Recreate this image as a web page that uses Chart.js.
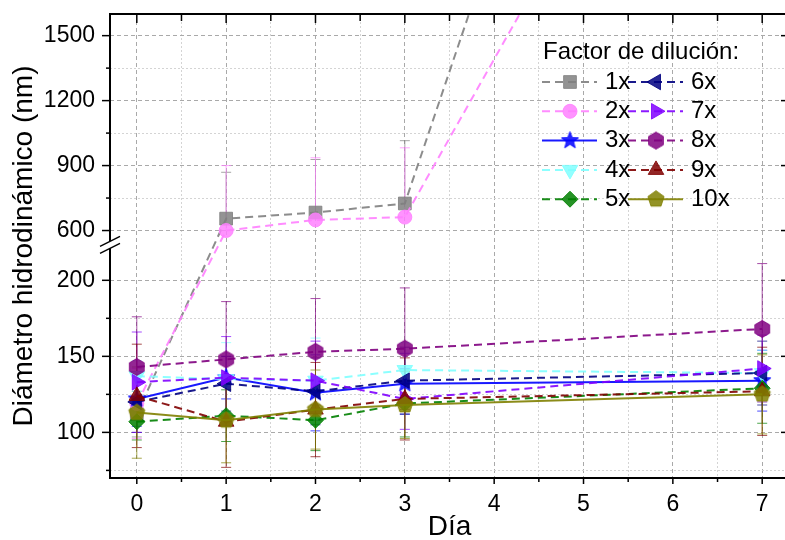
<!DOCTYPE html>
<html>
<head>
<meta charset="utf-8">
<title>Diámetro hidrodinámico vs día</title>
<script src="https://cdn.jsdelivr.net/npm/chart.js@4.4.1/dist/chart.umd.min.js"></script>
<style>
  html, body { margin: 0; background: #fff; }
  #wrap { width: 785px; height: 540px; overflow: hidden; }
</style>
</head>
<body>
<div id="wrap"><canvas id="dls" width="799" height="540"></canvas></div>
<script>
// ── values ────────────────────────────────────────────────────────────────────
const days = [0, 1, 2, 3, 7];
const seriesLabels = ['1x', '2x', '3x', '4x', '5x', '6x', '7x', '8x', '9x', '10x'];

const mean1x  = [112, 655, 683, 725, 5600];
const mean2x  = [119, 600, 649, 662, 3580];
const mean3x  = [122, 136, 126, 132, 134];
const mean4x  = [137, 135, 134, 141, 139];
const mean5x  = [107, 111, 108, 119, 129];
const mean6x  = [120, 132, 127, 134, 139];
const mean7x  = [133, 136, 134, 122, 142];
const mean8x  = [143, 148, 153, 155, 168];
const mean9x  = [124, 107, 115, 122, 127];
const mean10x = [113, 108, 115, 118, 125];

const sd1x  = [15, 214, 245, 290, 0];
const sd2x  = [23, 300, 287, 320, 0];
const sd3x  = [18, 14, 25, 20, 20];
const sd4x  = [10, 24, 28, 18, 15];
const sd5x  = [12, 17, 20, 22, 23];
const sd6x  = [20, 18, 22, 22, 21];
const sd7x  = [33, 27, 26, 20, 22];
const sd8x  = [33, 38, 35, 40, 43];
const sd9x  = [34, 30, 31, 27, 29];
const sd10x = [30, 28, 26, 22, 26];

const xTickValues = [0, 0.5, 1, 1.5, 2, 2.5, 3, 3.5, 4, 4.5, 5, 5.5, 6, 6.5, 7];
const yMajorTicks = [100, 150, 200, 600, 900, 1200, 1500];
const yMinorTicks = [75, 125, 175, 750, 1050, 1350];
const yBreak = [225, 550];

const seriesMeans = [mean1x, mean2x, mean3x, mean4x, mean5x, mean6x, mean7x, mean8x, mean9x, mean10x];
const seriesSd    = [sd1x, sd2x, sd3x, sd4x, sd5x, sd6x, sd7x, sd8x, sd9x, sd10x];

// ── look ──────────────────────────────────────────────────────────────────────
const FONT = '"Liberation Sans", Arial, sans-serif';
const GRID_MAJOR = '#a9a9a9';
const GRID_MINOR = '#d4d4d4';

const seriesStyle = [
  { color: '#808080', marker: 'rect',     r: 9,   rot: 0,   dashed: true  },
  { color: '#ff80ff', marker: 'circle',   r: 7,   rot: 0,   dashed: true  },
  { color: '#0000ff', marker: 'star',     r: 9,   rot: 0,   dashed: false },
  { color: '#80ffff', marker: 'triangle', r: 9,   rot: 180, dashed: true  },
  { color: '#008000', marker: 'rectRot',  r: 8,   rot: 0,   dashed: true  },
  { color: '#000080', marker: 'triangle', r: 9,   rot: 270, dashed: true  },
  { color: '#8000ff', marker: 'triangle', r: 9,   rot: 90,  dashed: true  },
  { color: '#800080', marker: 'hexagon',  r: 8.5, rot: 0,   dashed: true  },
  { color: '#800000', marker: 'triangle', r: 9,   rot: 0,   dashed: true  },
  { color: '#808000', marker: 'pentagon', r: 8.5, rot: 0,   dashed: false },
];

function rgba(hex, a) {
  const n = parseInt(hex.slice(1), 16);
  return `rgba(${n >> 16},${(n >> 8) & 255},${n & 255},${a})`;
}

// star / hexagon / pentagon are not built-in point styles → small canvases
function shapeMarker(kind, color, r) {
  const size = Math.ceil(2 * r + 3);
  const c = document.createElement('canvas');
  c.width = c.height = size;
  const g = c.getContext('2d');
  const m = size / 2;
  g.beginPath();
  if (kind === 'star') {
    for (let k = 0; k < 10; k++) {
      const rr = k % 2 ? r * 0.42 : r;
      const a = -Math.PI / 2 + k * Math.PI / 5;
      g.lineTo(m + rr * Math.cos(a), m + rr * Math.sin(a));
    }
  } else {
    const n = kind === 'hexagon' ? 6 : 5;
    for (let k = 0; k < n; k++) {
      const a = -Math.PI / 2 + k * 2 * Math.PI / n;
      g.lineTo(m + r * Math.cos(a), m + r * Math.sin(a));
    }
  }
  g.closePath();
  g.fillStyle = color;
  g.fill();
  g.lineWidth = 1;
  g.strokeStyle = color;
  g.stroke();
  return c;
}

// ── broken linear y scale (Origin-style axis break) ───────────────────────────
const LOW_SHARE = 0.508;   // part of the height for the lower segment
const GAP_SHARE = 0.002;   // the break itself

function segmentOf(v) {
  return v <= yBreak[0] ? 0 : (v < yBreak[1] ? 1 : 2);
}

class BrokenLinearScale extends Chart.LinearScale {
  buildTicks() {
    return [...yMinorTicks, ...yMajorTicks].sort((a, b) => a - b).map(v => ({ value: v }));
  }
  toDecimal(v) {
    const [b0, b1] = yBreak;
    if (v <= b0) return (v - this.min) / (b0 - this.min) * LOW_SHARE;
    if (v < b1)  return LOW_SHARE + (v - b0) / (b1 - b0) * GAP_SHARE;
    return LOW_SHARE + GAP_SHARE + (v - b1) / (this.max - b1) * (1 - LOW_SHARE - GAP_SHARE);
  }
  fromDecimal(d) {
    const [b0, b1] = yBreak;
    if (d <= LOW_SHARE) return this.min + d / LOW_SHARE * (b0 - this.min);
    if (d < LOW_SHARE + GAP_SHARE) return b0 + (d - LOW_SHARE) / GAP_SHARE * (b1 - b0);
    return b1 + (d - LOW_SHARE - GAP_SHARE) / (1 - LOW_SHARE - GAP_SHARE) * (this.max - b1);
  }
  getPixelForValue(value) {
    if (value === null || value === undefined || isNaN(value)) return NaN;
    return this.getPixelForDecimal(this.toDecimal(value));
  }
  getValueForPixel(pixel) {
    return this.fromDecimal(this.getDecimalForPixel(pixel));
  }
}
BrokenLinearScale.id = 'brokenLinear';
BrokenLinearScale.defaults = {};
Chart.register(BrokenLinearScale);

// fixed box sizes, no label overhang padding → plot area = layout padding
function fixBox(w, h) {
  return s => {
    if (w !== null) s.width = w;
    if (h !== null) s.height = h;
    s.paddingTop = s.paddingBottom = s.paddingLeft = s.paddingRight = 0;
  };
}

// ── plugins ───────────────────────────────────────────────────────────────────
function seg(ctx, x1, y1, x2, y2) {
  ctx.beginPath();
  ctx.moveTo(x1, y1);
  ctx.lineTo(x2, y2);
  ctx.stroke();
}

const errorBars = {
  id: 'errorBars',
  beforeDatasetsDraw(chart) {
    const { ctx, chartArea: a, scales: { y } } = chart;
    ctx.save();
    ctx.beginPath();
    ctx.rect(a.left, a.top, a.right - a.left, a.bottom - a.top);
    ctx.clip();
    ctx.lineWidth = 1;
    chart.data.datasets.forEach((ds, i) => {
      const meta = chart.getDatasetMeta(i);
      ctx.strokeStyle = rgba(seriesStyle[i].color, 0.7);
      ds.data.forEach((pt, j) => {
        const e = seriesSd[i][j];
        if (!e) return;
        const x = meta.data[j].x;
        const y0 = y.getPixelForValue(pt.y);
        [pt.y + e, pt.y - e].forEach(end => {
          if (segmentOf(end) !== segmentOf(pt.y)) return;   // falls into the break
          const y1 = y.getPixelForValue(end);
          seg(ctx, x, y0, x, y1);
          seg(ctx, x - 5, y1, x + 5, y1);
        });
      });
    });
    ctx.restore();
  }
};

const axisFrame = {
  id: 'axisFrame',
  afterDraw(chart) {
    const { ctx, chartArea: a, scales: { x, y } } = chart;
    ctx.save();
    ctx.strokeStyle = '#000';
    ctx.lineWidth = 2;
    ctx.strokeRect(a.left, a.top, a.right - a.left, a.bottom - a.top);

    ctx.lineWidth = 1.5;
    x.ticks.forEach(t => {
      const px = x.getPixelForValue(t.value);
      const L = Number.isInteger(t.value) ? 6 : 4;
      seg(ctx, px, a.bottom, px, a.bottom + L);        // bottom: outward
      seg(ctx, px, a.top, px, a.top + L + 3);          // top: inward
    });
    y.ticks.forEach(t => {
      const py = y.getPixelForValue(t.value);
      const L = yMajorTicks.includes(t.value) ? 8 : 4;
      seg(ctx, a.left - L, py, a.left, py);            // left: outward
      seg(ctx, a.right - L, py, a.right, py);          // right: inward
    });

    // break marks on the left axis
    const yb = y.getPixelForValue((yBreak[0] + yBreak[1]) / 2) + 3;
    const xl = a.left;
    ctx.fillStyle = '#fff';
    ctx.beginPath();
    ctx.moveTo(xl - 9, yb + 1);
    ctx.lineTo(xl + 9, yb - 8);
    ctx.lineTo(xl + 9, yb - 1);
    ctx.lineTo(xl - 9, yb + 8);
    ctx.closePath();
    ctx.fill();
    ctx.lineWidth = 1.5;
    seg(ctx, xl - 10, yb + 1.5, xl + 10, yb - 8.5);
    seg(ctx, xl - 10, yb + 8.5, xl + 10, yb - 1.5);
    ctx.restore();
  }
};

const seriesLegend = {
  id: 'seriesLegend',
  afterDraw(chart) {
    const ctx = chart.ctx;
    ctx.save();
    ctx.font = `24px ${FONT}`;
    ctx.fillStyle = '#000';
    ctx.textBaseline = 'middle';
    ctx.textAlign = 'left';
    ctx.fillText('Factor de dilución:', 543, 52);
    chart.data.datasets.forEach((ds, i) => {
      const col = Math.floor(i / 5), row = i % 5;
      const x0 = col ? 628 : 542;
      const yy = 82 + row * 29.3;
      ctx.strokeStyle = ds.borderColor;
      ctx.lineWidth = ds.borderWidth;
      ctx.setLineDash(ds.borderDash);
      seg(ctx, x0, yy, x0 + 55, yy);
      ctx.setLineDash([]);
      ctx.fillStyle = ds.pointBackgroundColor;
      ctx.strokeStyle = ds.pointBorderColor;
      ctx.lineWidth = 1;
      Chart.helpers.drawPoint(ctx, {
        pointStyle: ds.pointStyle, radius: ds.pointRadius,
        rotation: ds.pointRotation, borderWidth: 1
      }, x0 + 28, yy);
      ctx.fillStyle = '#000';
      ctx.fillText(ds.label, x0 + 63, yy);
    });
    ctx.restore();
  }
};

// ── chart ─────────────────────────────────────────────────────────────────────
Chart.defaults.font.family = FONT;
Chart.defaults.color = '#000';

const datasets = seriesLabels.map((label, i) => {
  const st = seriesStyle[i];
  const fill = rgba(st.color, 0.85);
  const custom = ['star', 'hexagon', 'pentagon'].includes(st.marker);
  return {
    label,
    data: days.map((d, j) => ({ x: d, y: seriesMeans[i][j] })),
    borderColor: rgba(st.color, 0.9),
    borderWidth: 2,
    borderDash: st.dashed ? [8, 5] : [],
    pointStyle: custom ? shapeMarker(st.marker, fill, st.r) : st.marker,
    pointRadius: st.r,
    pointRotation: st.rot,
    pointBackgroundColor: fill,
    pointBorderColor: fill,
    pointBorderWidth: 1,
    tension: 0,
    order: seriesLabels.length - i,
  };
});

new Chart(document.getElementById('dls'), {
  type: 'line',
  data: { datasets },
  options: {
    responsive: false,
    animation: false,
    events: [],
    layout: { padding: { top: 14, right: 5, bottom: 0, left: 0 } },
    plugins: { legend: { display: false }, tooltip: { enabled: false } },
    scales: {
      x: {
        type: 'linear',
        min: -0.3,
        max: 7.3,
        afterBuildTicks: s => { s.ticks = xTickValues.map(v => ({ value: v })); },
        afterFit: fixBox(null, 62),
        ticks: {
          autoSkip: false, maxRotation: 0, padding: 13,
          font: { size: 23 },
          callback: v => Number.isInteger(v) ? String(v) : ''
        },
        grid: {
          drawTicks: false, lineWidth: 1,
          color: c => (c.tick && Number.isInteger(c.tick.value)) ? GRID_MAJOR : GRID_MINOR
        },
        border: {
          display: false,
          dash: c => (c.tick && !Number.isInteger(c.tick.value)) ? [2, 2] : [4, 3]
        },
        title: { display: true, text: 'Día', font: { size: 28, lineHeight: 0.9 }, padding: { top: 0, bottom: 0 } }
      },
      y: {
        type: 'brokenLinear',
        min: 70,
        max: 1600,
        afterFit: fixBox(110, null),
        ticks: {
          autoSkip: false, padding: 15,
          font: { size: 23 },
          callback: v => yMajorTicks.includes(v) ? String(v) : ''
        },
        grid: {
          drawTicks: false, lineWidth: 1,
          color: c => (c.tick && yMajorTicks.includes(c.tick.value)) ? GRID_MAJOR : GRID_MINOR
        },
        border: {
          display: false,
          dash: c => (c.tick && !yMajorTicks.includes(c.tick.value)) ? [2, 2] : [4, 3]
        },
        title: { display: true, text: 'Diámetro hidrodinámico (nm)', font: { size: 28 }, padding: { top: 7, bottom: 0 } }
      }
    }
  },
  plugins: [errorBars, axisFrame, seriesLegend]
});
</script>
</body>
</html>
